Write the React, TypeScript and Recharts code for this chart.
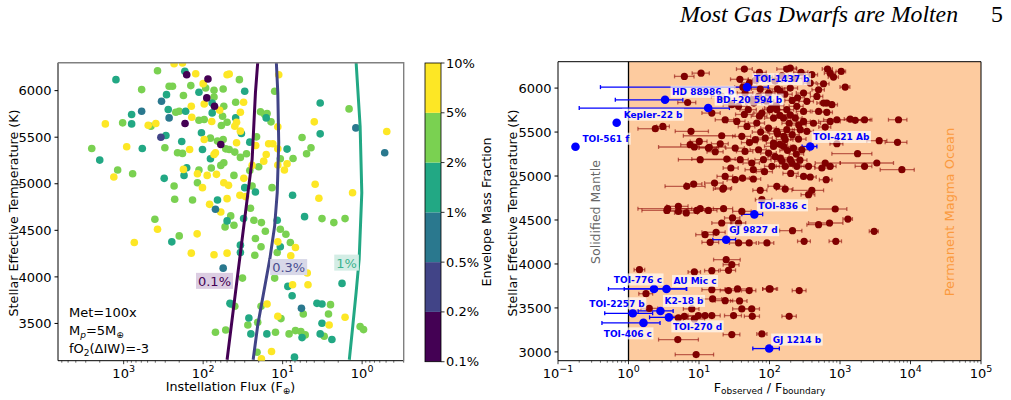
import React from "react";
import {
  ErrorBar,
  ReferenceArea,
  ReferenceLine,
  Scatter,
  ScatterChart,
  XAxis,
  YAxis,
} from "recharts";

const FONT = "'DejaVu Sans', sans-serif";

// colorbar: envelope mass fraction bins, low -> high
const envTicks = ["0.1%", "0.2%", "0.5%", "1%", "2%", "5%", "10%"];
const envColors = ["#440154", "#414487", "#2a788e", "#22a884", "#7ad151", "#fde725"];

// left panel: [instellation flux (F_earth), Teff (K)] per envelope bin
const leftPurple = [[161, 6171], [87, 6125], [90, 5922], [72, 5832], [169, 5647], [60, 5422]];
const leftIndigo = [[340, 5500]];
const leftBlue = [
  [334, 5886], [594, 5779], [268, 5707], [70, 4726], [56, 4094], [1.2, 5600], [0.52, 5333], [5.8, 3662],
];
const leftTeal = [
  [1250, 6118], [170, 6207], [113, 5982], [289, 5957], [77, 5868], [794, 5743], [275, 5797], [166, 5779],
  [77, 5761], [794, 5643], [294, 5518], [105, 5547], [583, 5379], [186, 5454], [102, 5368], [81, 5268],
  [2000, 5254], [309, 5058], [161, 5172], [174, 5090], [66, 4826], [50, 4601], [248, 4376], [46, 3716],
  [30, 5993], [39, 5707], [33, 5540], [25.9, 5447], [16.1, 5707], [3.37, 5868], [3.37, 5536], [8.8, 5372],
  [30, 4958], [22, 4912], [7.5, 4876], [5.3, 4647], [31, 4626], [11.7, 4608], [10.7, 4323], [34, 4341],
  [34, 4262], [8.6, 3898], [7.6, 3798], [1.79, 3930], [45, 3709], [3.7, 3716], [3.2, 3709], [26.6, 3559],
  [3.2, 3502], [25.1, 3388], [15.8, 3388], [5.7, 3348], [3.37, 3388], [2.4, 3327], [7.1, 3138],
];
const leftGreen = [
  [375, 6214], [594, 6011], [268, 6047], [243, 6047], [143, 6054], [93, 6029], [73, 6004], [56, 6018],
  [177, 5947], [73, 5932], [55, 5832], [221, 5768], [200, 5779], [57, 5725], [1030, 5654], [454, 5618],
  [113, 5682], [97, 5690], [59, 5625], [50, 5661], [81, 5490], [66, 5458], [56, 5475], [2520, 5379],
  [303, 5386], [210, 5333], [182, 5326], [52, 5375], [1190, 5147], [771, 5108], [113, 5147], [79, 5169],
  [60, 5197], [55, 5226], [232, 4976], [118, 5011], [228, 4833], [136, 4826], [53, 4537], [405, 4619],
  [200, 4440], [70, 3405], [52, 3430],
  [35, 6118], [12.6, 5993], [39, 5875], [47, 5368], [40, 5340], [34, 5283], [28.5, 5322], [21.3, 5504],
  [19, 5772], [16.8, 5743], [15.7, 5754], [14, 5665], [1.46, 5804], [5.7, 5497], [10.7, 5268], [7.4, 5272],
  [4.4, 5386], [5.0, 5322], [25.9, 5143], [20, 5183], [41, 5090], [24.2, 4976], [13.6, 4958], [25.4, 4737],
  [3.2, 4626], [2.27, 4583], [1.64, 4626], [45, 4655], [23, 4608], [18.5, 4583], [41, 4555], [16.5, 4490],
  [10.7, 4512], [9.1, 4458], [22, 4412], [18.7, 4323], [8.0, 4369], [22.4, 4233], [11.7, 4262], [32, 3987],
  [12.6, 3987], [40, 3684], [18.7, 3684], [5.5, 3602], [2.5, 3702], [2.65, 3602], [10.5, 3552], [27.4, 3484],
  [20.6, 3513], [1.06, 3466], [0.96, 3434], [12.3, 3405], [8.3, 3388], [6.9, 3423], [5.9, 3413], [5.2, 3377],
  [3.0, 3363], [21, 3191],
];
const leftYellow = [
  [232, 6290], [182, 6298], [124, 6182], [50, 6171], [100, 6075], [141, 5832], [97, 5857], [62, 5790],
  [139, 5715], [1700, 5643], [491, 5629], [394, 5647], [78, 5668], [97, 5475], [916, 5397], [148, 5368],
  [70, 5333], [73, 5315], [1330, 5072], [177, 5154], [118, 5108], [89, 5090], [68, 5101], [102, 4958],
  [55, 5011], [83, 4779], [60, 4697], [375, 4512], [119, 4462], [735, 4369], [141, 4255], [73, 4237],
  [50, 4255],
  [47, 6179], [11.2, 6171], [31, 5875], [34, 5768], [38, 5661], [40, 5618], [34, 5565], [38, 5440],
  [21.8, 5411], [11.5, 5611], [4.0, 5665], [0.49, 5561], [15, 5429], [13.3, 5429], [11.5, 5375], [16.1, 5315],
  [24.2, 5197], [17.3, 5243], [11.5, 5201], [8.8, 5215], [9.5, 5147], [30.8, 5058], [48, 4983], [34.5, 4876],
  [29.3, 4862], [50, 4840], [3.9, 4994], [3.5, 4844], [1.32, 4904], [11.5, 4376], [6.9, 4316], [7.9, 4226],
  [7.5, 3916], [4.9, 4041], [4.8, 3916], [15.7, 3709], [11.5, 3577], [2.6, 3484], [1.64, 3566], [13.8, 3198],
  [18.5, 3120],
];

// constant envelope-fraction boundaries: [flux, Teff]
const curve01 = [[50, 3110], [39.2, 3834], [30.8, 4548], [24.2, 5261], [22, 5975], [20.6, 6300]];
const curve03 = [
  [23.5, 3110], [20.6, 3477], [17.3, 3834], [14.5, 4191], [12.6, 4548], [11.7, 4904], [11.2, 5440],
  [11.5, 5975], [12, 6300],
];
const curve1 = [[1.45, 3110], [1.31, 3477], [1.19, 3834], [1.09, 4191], [1.01, 4904], [1.06, 5618], [1.19, 6300]];
const curveLabels: [string, number, number][] = [["0.1%", 72, 3952], ["0.3%", 8.4, 4100], ["1%", 1.57, 4148]];
const curveStyles = [
  { line: "#440154", text: "#440154", bg: "#dccde2" },
  { line: "#414487", text: "#4a4d8f", bg: "#d8d8e8" },
  { line: "#22a884", text: "#3cb38f", bg: "#d3ede5" },
];

// right panel: [F_obs/F_boundary, Teff, lower bound, upper bound]
const magmaPlanets = [
  [6.2, 6133, 4.5, 8.5], [10.7, 6170, 8, 14], [44, 6216, 34, 57], [72, 6178, 60, 90], [74, 5989, 55, 95],
  [2.4, 5538, 1.36, 3.4], [3.07, 5564, 2.5, 3.8], [7.7, 5508, 4.6, 13.6], [21, 5458, 6.0, 32.6],
  [8.6, 5330, 2.67, 23.5], [13.6, 5318, 10, 18], [10.4, 5186, 5.1, 23.5], [24.8, 5193, 7.9, 32.6],
  [28.3, 5091, 22, 36], [23.5, 4996, 18, 30], [32.6, 4958, 25, 42], [41.4, 4977, 32, 52], [59, 4966, 45, 75],
  [6.7, 4883, 3.3, 12.2], [8.4, 4909, 6.5, 11], [16.6, 4920, 12, 22], [22.3, 4864, 17, 29], [74, 4837, 58, 92],
  [78, 4731, 63, 108], [3.6, 4629, 1.36, 7.9], [5.1, 4655, 3.5, 7], [6.6, 4580, 4.5, 9.5], [10.4, 4629, 5.1, 23.5],
  [22.3, 4629, 16, 30], [40.5, 4598, 30, 55], [29.9, 4523, 23, 38], [21, 4466, 15.2, 29.2], [36.4, 4466, 28, 46],
  [12.2, 4333, 9, 16], [17.5, 4360, 11, 23.5], [14.4, 4246, 11, 19], [36.4, 4239, 27, 48], [51.5, 4239, 40, 65],
  [92, 4239, 70, 115], [24.3, 4049, 16.1, 38.4], [29.2, 3992, 22, 37], [26.2, 3928, 20, 33], [1.43, 3935, 1.2, 1.7],
  [8.6, 3909, 7, 10.5], [15.2, 3924, 12, 19], [15.2, 3708, 11, 23.5], [26.2, 3697, 20, 33], [35.2, 3716, 23.5, 56],
  [51.5, 3697, 40, 64], [99, 3716, 80, 125], [7.9, 3489, 6, 10], [15.6, 3602, 11, 21], [23.5, 3583, 17, 30],
  [37.6, 3580, 28, 48], [40.5, 3489, 30, 52], [56, 3489, 42, 72], [5.1, 3386, 3.5, 7], [6.2, 3405, 4, 9],
  [8.6, 3375, 6, 12], [9.8, 3413, 7, 13], [12.2, 3413, 9, 16], [15.2, 3413, 11, 20], [30.9, 3413, 23, 40],
  [57, 3405, 44, 72], [78, 3204, 66, 92], [29.2, 3197, 22, 38], [5.0, 3140, 2.67, 9.8], [9.1, 2970, 4.6, 16.1],
  [45, 5943, 35, 58], [56, 5867, 42, 72], [70, 5905, 55, 88], [97, 5943, 75, 120], [36.4, 5792, 27, 48],
  [50, 5754, 38, 65], [78, 5716, 60, 100], [108, 5773, 85, 135], [34.4, 5621, 25, 45], [48, 5564, 36, 62],
  [66, 5602, 50, 85], [97, 5545, 75, 125], [40.5, 5451, 30, 54], [63, 5413, 48, 80], [87, 5432, 68, 110],
  [114, 5375, 90, 145], [32.6, 5318, 24, 44], [45, 5280, 34, 58], [70, 5299, 53, 90], [97, 5261, 75, 125],
  [38.4, 5186, 28, 50], [56, 5148, 42, 72], [82, 5186, 62, 105], [108, 5110, 85, 138], [59, 5072, 45, 76],
  [6.9, 5836, 5, 9], [7.5, 5356, 5.5, 10], [10.1, 5393, 7.5, 13], [14, 5325, 10, 19], [20, 5367, 15, 26],
  [17, 5276, 13, 22], [21.8, 4852, 16, 28], [13.6, 4609, 10, 18], [3.5, 4609, 1.55, 6.7], [5.1, 4598, 3.8, 6.8],
  [9.3, 4609, 7, 12], [1.77, 3662, 1.4, 2.2], [1.97, 3495, 1.5, 2.6],
  [15.2, 5716, 11, 20], [23.5, 5640, 17, 31], [29.2, 5811, 22, 38], [21, 5905, 15, 28],
  [176, 6216, 127, 244], [197, 6227, 160, 240], [399, 6152, 320, 480], [665, 6216, 560, 780], [726, 6170, 600, 860],
  [1040, 6189, 880, 1200], [809, 6125, 680, 950], [584, 6049, 480, 700], [1185, 6011, 1000, 1380], [378, 6057, 300, 460],
  [142, 5962, 110, 180], [197, 6000, 150, 250], [304, 5943, 240, 380], [497, 5981, 400, 600], [339, 5849, 260, 420],
  [470, 5905, 380, 570], [651, 5830, 520, 780], [767, 5811, 620, 920], [585, 5830, 470, 700], [102, 5754, 80, 130],
  [127, 5754, 95, 165], [176, 5754, 135, 220], [244, 5792, 190, 300], [304, 5735, 240, 380], [197, 5697, 150, 250],
  [497, 5735, 400, 600], [651, 5724, 520, 780], [114, 5659, 85, 150], [158, 5659, 120, 200], [232, 5659, 180, 290],
  [304, 5621, 240, 380], [726, 5621, 497, 1007], [903, 5640, 585, 2680], [1397, 5648, 1150, 1700],
  [1644, 5633, 1350, 2000], [2230, 5640, 1250, 2830], [6760, 5640, 4870, 8890], [617, 5557, 500, 740],
  [127, 5508, 95, 165], [176, 5527, 135, 225], [273, 5527, 210, 340], [339, 5508, 260, 420], [167, 5413, 125, 215],
  [258, 5420, 200, 330], [903, 5367, 720, 1100], [1775, 5254, 767, 2830], [3600, 5402, 2400, 4620],
  [6540, 5383, 4370, 8890], [219, 5318, 170, 280], [288, 5299, 220, 370], [158, 5337, 120, 200], [114, 5337, 85, 150],
  [142, 5205, 105, 185], [197, 5186, 150, 250], [208, 5148, 160, 270], [167, 5110, 125, 215], [244, 5110, 185, 310],
  [304, 4996, 240, 380], [378, 4989, 300, 460], [358, 5110, 280, 440], [553, 5091, 440, 680], [617, 5148, 445, 1007],
  [726, 5110, 580, 880], [2230, 5110, 1640, 2830], [3330, 5148, 1007, 5740], [7550, 5072, 3720, 11300],
  [637, 4958, 510, 770], [127, 4883, 95, 165], [167, 4852, 125, 215], [358, 4788, 280, 440], [399, 4837, 208, 585],
  [855, 4625, 470, 1250], [1295, 4511, 1100, 1500], [497, 4447, 339, 726], [711, 4466, 358, 1100],
  [3050, 4371, 2600, 3500], [212, 4379, 139, 288], [310, 4258, 250, 380], [873, 4258, 700, 1050],
  [102, 3716, 80, 130], [264, 3697, 210, 330], [190, 3405, 150, 240],
  [38, 6100, 28, 50], [52, 6060, 40, 66], [64, 6090, 50, 80], [88, 6120, 70, 110], [120, 6080, 95, 150],
  [150, 6140, 120, 185], [230, 6110, 180, 290], [280, 6180, 220, 350], [42, 6010, 32, 55], [130, 5990, 100, 165],
  [165, 5930, 130, 210], [250, 5890, 195, 315], [60, 5830, 46, 78], [90, 5850, 70, 115], [125, 5800, 98, 160],
  [210, 5860, 165, 265], [44, 5700, 33, 58], [72, 5680, 55, 92], [140, 5690, 110, 180], [190, 5600, 150, 240],
  [260, 5580, 205, 330], [420, 5600, 330, 530], [75, 5500, 57, 96], [130, 5480, 100, 165], [160, 5450, 125, 205],
  [210, 5470, 165, 265], [52, 5380, 40, 67], [140, 5360, 110, 180], [180, 5290, 140, 230], [240, 5250, 190, 305],
  [120, 5220, 95, 155], [150, 5170, 118, 190], [270, 5180, 210, 340], [85, 5050, 65, 110], [200, 5030, 155, 255],
];

// highlighted planets: [name, ratio, Teff, lower, upper]
const namedPlanets: [string, number, number, number, number][] = [
  ["TOI-1437 b", 48, 6011, 0.4, 96],
  ["HD 88986  b", 3.3, 5867, 0.65, 5.9],
  ["BD+20 594 b", 13.5, 5773, 0.2, 27],
  ["Kepler-22 b", 0.68, 5606, 0.68, 0.68],
  ["TOI-561 f", 0.177, 5333, 0.177, 0.177],
  ["TOI-421 Ab", 378, 5336, 290, 470],
  ["TOI-836 c", 61, 4564, 40.5, 80],
  ["GJ 9827 d", 24.3, 4276, 15.7, 33],
  ["TOI-776 c", 2.3, 3716, 0.52, 6.6],
  ["AU Mic c", 3.46, 3716, 0.87, 6.7],
  ["TOI-2257 b", 1.15, 3439, 0.46, 2.2],
  ["K2-18 b", 2.84, 3466, 1.37, 4.3],
  ["TOI-270 d", 3.74, 3393, 1.99, 5.4],
  ["TOI-406 c", 1.63, 3330, 0.42, 2.8],
  ["GJ 1214 b", 99, 3038, 58, 138],
];
// label placement relative to the marker: [dx, dy, anchor]
const labelPlacement: Record<string, [number, number, string]> = {
  "TOI-1437 b": [7, -8, "start"],
  "HD 88986  b": [7, -8, "start"],
  "BD+20 594 b": [8, -8.5, "start"],
  "Kepler-22 b": [7, -8, "start"],
  "TOI-561 f": [7, -8, "start"],
  "TOI-421 Ab": [3, -9.5, "start"],
  "TOI-836 c": [4, -9, "start"],
  "GJ 9827 d": [3, -9.5, "start"],
  "TOI-776 c": [8, -9.5, "end"],
  "AU Mic c": [7, -8, "start"],
  "TOI-2257 b": [12, -10, "end"],
  "K2-18 b": [4, -10, "start"],
  "TOI-270 d": [4, 9, "start"],
  "TOI-406 c": [8.5, 10.5, "end"],
  "GJ 1214 b": [3.5, -9, "start"],
};

const leftFluxTicks = [
  0.3, 0.4, 0.5, 0.6, 0.7, 0.8, 0.9, 1, 2, 3, 4, 5, 6, 7, 8, 9, 10, 20, 30, 40, 50, 60, 70, 80, 90,
  100, 200, 300, 400, 500, 600, 700, 800, 900, 1000, 2000, 3000, 4000, 5000, 6000,
];
const rightRatioTicks = [
  0.1, 0.2, 0.3, 0.4, 0.5, 0.6, 0.7, 0.8, 0.9, 1, 2, 3, 4, 5, 6, 7, 8, 9, 10, 20, 30, 40, 50, 60, 70, 80, 90,
  100, 200, 300, 400, 500, 600, 700, 800, 900, 1000, 2000, 3000, 4000, 5000, 6000, 7000, 8000, 9000,
  10000, 20000, 30000, 40000, 50000, 60000, 70000, 80000, 90000, 100000,
];
const leftTeffTicks = [3500, 4000, 4500, 5000, 5500, 6000];
const rightTeffTicks = [3000, 3500, 4000, 4500, 5000, 5500, 6000];

const measureCtx = typeof document !== "undefined" ? document.createElement("canvas").getContext("2d") : null;
function textWidth(t: string, font: string) {
  if (!measureCtx) return t.length * 5.5;
  measureCtx.font = font;
  return measureCtx.measureText(t).width;
}

function LogTick(props: any) {
  const { x, y, payload } = props;
  const lg = Math.log10(payload.value);
  const exp = Math.round(lg);
  const major = Math.abs(lg - exp) < 1e-6;
  return (
    <g>
      <line x1={x} x2={x} y1={y} y2={y + (major ? 3.5 : 2)} stroke="#000" strokeWidth={major ? 0.8 : 0.6} />
      {major && (
        <text x={x} y={y + 17} textAnchor="middle" fontSize={13} fontFamily={FONT} fill="#000">
          <tspan>10</tspan>
          <tspan dy={-6} fontSize={9.5}>{exp < 0 ? "\u2212" + -exp : String(exp)}</tspan>
        </text>
      )}
    </g>
  );
}

const yTickStyle = { fontSize: 13, fill: "#000", fontFamily: FONT };

function dot(color: string, r: number) {
  return (p: any) => <circle cx={p.cx} cy={p.cy} r={r} fill={color} />;
}

function CurveLabel(p: any) {
  const { cx, cy, payload } = p;
  const st = curveStyles[payload.idx];
  const w = textWidth(payload.text, `13px ${FONT}`);
  return (
    <g>
      <rect x={cx - w / 2 - 2} y={cy - 8.5} width={w + 4} height={16} fill={st.bg} />
      <text x={cx} y={cy + 4.5} textAnchor="middle" fontSize={13} fontFamily={FONT} fill={st.text}>
        {payload.text}
      </text>
    </g>
  );
}

function NamedDot(p: any) {
  const { cx, cy, payload } = p;
  const [dx, dy, anchor] = labelPlacement[payload.name] || [6, -8, "start"];
  const w = textWidth(payload.name, `bold 9px ${FONT}`);
  const x0 = anchor === "end" ? cx + dx - w : cx + dx;
  return (
    <g>
      <circle cx={cx} cy={cy} r={4.3} fill="#0000ff" />
      <rect x={x0 - 1.5} y={cy + dy - 6} width={w + 3} height={12} fill="#fff" fillOpacity={0.65} />
      <text
        x={x0}
        y={cy + dy + 3.3}
        fontSize={9}
        fontWeight="bold"
        fontFamily={FONT}
        fill="#0000ff"
        style={{ whiteSpace: "pre" }}
      >
        {payload.name}
      </text>
    </g>
  );
}

const leftSeries = [
  { pts: leftGreen, color: envColors[4] },
  { pts: leftTeal, color: envColors[3] },
  { pts: leftYellow, color: envColors[5] },
  { pts: leftBlue, color: envColors[2] },
  { pts: leftIndigo, color: envColors[1] },
  { pts: leftPurple, color: envColors[0] },
];
const curves = [curve01, curve03, curve1];

function LeftPanel() {
  return (
    <ScatterChart width={420} height={400} margin={{ top: 62.7, right: 16.3, bottom: 9.3, left: 8 }}>
      <XAxis
        type="number"
        dataKey="x"
        scale="log"
        domain={[0.3, 6700]}
        reversed
        allowDataOverflow
        ticks={leftFluxTicks}
        interval={0}
        tick={(p: any) => <LogTick {...p} />}
        tickLine={false}
        tickSize={0}
        tickMargin={0}
        height={30}
        axisLine={{ stroke: "#000", strokeWidth: 1 }}
      />
      <YAxis
        type="number"
        dataKey="y"
        domain={[3100, 6300]}
        allowDataOverflow
        ticks={leftTeffTicks}
        interval={0}
        width={50}
        tickSize={3.5}
        tickMargin={3}
        tick={yTickStyle}
        tickLine={{ stroke: "#000" }}
        axisLine={{ stroke: "#000", strokeWidth: 1 }}
      />
      {leftSeries.map((s, i) => (
        <Scatter
          key={"s" + i}
          data={s.pts.map(([x, y]) => ({ x, y }))}
          shape={dot(s.color, 3.8)}
          isAnimationActive={false}
        />
      ))}
      {curves.map((c, i) => (
        <Scatter
          key={"c" + i}
          data={c.map(([x, y]) => ({ x, y }))}
          line={{ stroke: curveStyles[i].line, strokeWidth: 3 }}
          shape={() => <g />}
          isAnimationActive={false}
        />
      ))}
      <Scatter
        data={curveLabels.map(([text, x, y], idx) => ({ text, x, y, idx }))}
        shape={(p: any) => <CurveLabel {...p} />}
        isAnimationActive={false}
      />
    </ScatterChart>
  );
}

function RightPanel() {
  const maroon = magmaPlanets.map(([x, y, lo, hi]) => ({ x, y, err: [x - lo, hi - x] }));
  const named = namedPlanets.map(([name, x, y, lo, hi]) => ({ name, x, y, err: [x - lo, hi - x] }));
  return (
    <ScatterChart width={511} height={400} margin={{ top: 61.7, right: 30, bottom: 9.3, left: 8 }}>
      <XAxis
        type="number"
        dataKey="x"
        scale="log"
        domain={[0.1, 100000]}
        allowDataOverflow
        ticks={rightRatioTicks}
        interval={0}
        tick={(p: any) => <LogTick {...p} />}
        tickLine={false}
        tickSize={0}
        tickMargin={0}
        height={30}
        axisLine={{ stroke: "#000", strokeWidth: 1 }}
      />
      <YAxis
        type="number"
        dataKey="y"
        domain={[2900, 6300]}
        allowDataOverflow
        ticks={rightTeffTicks}
        interval={0}
        width={50}
        tickSize={3.5}
        tickMargin={3}
        tick={yTickStyle}
        tickLine={{ stroke: "#000" }}
        axisLine={{ stroke: "#000", strokeWidth: 1 }}
      />
      <ReferenceArea x1={1} x2={100000} y1={2900} y2={6300} fill="#fdcb9f" fillOpacity={1} stroke="none" />
      <ReferenceLine x={1} stroke="#000" strokeWidth={1.3} />
      <Scatter data={maroon} shape={dot("#800000", 3.6)} isAnimationActive={false}>
        <ErrorBar dataKey="err" direction="x" width={2} stroke="#8b0000" strokeOpacity={0.55} strokeWidth={1.3} />
      </Scatter>
      <Scatter data={named} shape={(p: any) => <NamedDot {...p} />} isAnimationActive={false}>
        <ErrorBar dataKey="err" direction="x" width={2} stroke="#0000ff" strokeWidth={1.3} />
      </Scatter>
    </ScatterChart>
  );
}

function Overlay() {
  const cbX = 425;
  const cbW = 16;
  const cbTop = 63;
  const cbBottom = 361.7;
  const seg = (cbBottom - cbTop) / envColors.length;
  return (
    <svg width={1011} height={400} style={{ position: "absolute", left: 0, top: 0, pointerEvents: "none" }}>
      <text x={680} y={22} fontSize={23.8} fontStyle="italic" fontFamily="'Liberation Serif', serif" fill="#000">
        Most Gas Dwarfs are Molten
      </text>
      <text x={991} y={22} fontSize={23.8} fontFamily="'Liberation Serif', serif" fill="#000">
        5
      </text>

      {/* spines */}
      <polyline points="58,62.7 403.7,62.7 403.7,360.7" fill="none" stroke="#808080" strokeWidth={1.4} />
      <polyline points="558,61.7 981,61.7 981,360.7" fill="none" stroke="#000" strokeWidth={1} />

      {/* left panel notes */}
      <g fontFamily={FONT} fontSize={13} fill="#000">
        <text x={69} y={317}>Met=100x</text>
        <text x={69} y={335}>
          M<tspan fontSize={9} dy={3} fontStyle="italic">p</tspan>
          <tspan dy={-3}>=5M</tspan>
          <tspan fontSize={9} dy={3}>{"\u2295"}</tspan>
        </text>
        <text x={69} y={353}>
          fO<tspan fontSize={9} dy={3}>2</tspan>
          <tspan dy={-3}>(ΔIW)=-3</tspan>
        </text>
      </g>

      {/* axis titles */}
      <g fontFamily={FONT} fontSize={12.7} fill="#000">
        <text x={13} y={213} textAnchor="middle" transform="rotate(-90 13 213)" dominantBaseline="central">
          Stellar Effective Temperature (K)
        </text>
        <text x={512} y={213} textAnchor="middle" transform="rotate(-90 512 213)" dominantBaseline="central">
          Stellar Effective Temperature (K)
        </text>
        <text x={486} y={212} textAnchor="middle" transform="rotate(-90 486 212)" dominantBaseline="central">
          Envelope Mass Fraction
        </text>
        <text x={230.5} y={391} textAnchor="middle">
          Instellation Flux (F<tspan fontSize={9} dy={3}>{"\u2295"}</tspan>
          <tspan dy={-3}>)</tspan>
        </text>
        <text x={769.5} y={391.5} textAnchor="middle">
          F<tspan fontSize={9} dy={2.5}>observed</tspan>
          <tspan dy={-2.5}> / F</tspan>
          <tspan fontSize={9} dy={2.5}>boundary</tspan>
        </text>
      </g>

      {/* regime labels */}
      <text x={595} y={212} textAnchor="middle" transform="rotate(-90 595 212)" dominantBaseline="central"
        fontFamily={FONT} fontSize={12.5} fill="#666">
        Solidified Mantle
      </text>
      <text x={949} y={212} textAnchor="middle" transform="rotate(-90 949 212)" dominantBaseline="central"
        fontFamily={FONT} fontSize={13} fill="#fb9a3e">
        Permanent Magma Ocean
      </text>

      {/* colorbar */}
      {envColors.map((c, i) => (
        <rect key={c} x={cbX} y={cbBottom - (i + 1) * seg} width={cbW} height={seg} fill={c} />
      ))}
      <rect x={cbX} y={cbTop} width={cbW} height={cbBottom - cbTop} fill="none" stroke="#000" strokeWidth={0.8} />
      {envTicks.map((t, i) => (
        <g key={t}>
          <line x1={cbX + cbW} x2={cbX + cbW + 3.5} y1={cbBottom - i * seg} y2={cbBottom - i * seg} stroke="#000" strokeWidth={0.8} />
          <text x={cbX + cbW + 5} y={cbBottom - i * seg + 4.5} fontFamily={FONT} fontSize={13} fill="#000">
            {t}
          </text>
        </g>
      ))}
    </svg>
  );
}

export default function App() {
  return (
    <div style={{ position: "absolute", left: 0, top: 0, width: 1011, height: 400, background: "#fff", overflow: "hidden" }}>
      <div style={{ position: "absolute", left: 0, top: 0 }}>
        <LeftPanel />
      </div>
      <div style={{ position: "absolute", left: 500, top: 0 }}>
        <RightPanel />
      </div>
      <Overlay />
    </div>
  );
}
